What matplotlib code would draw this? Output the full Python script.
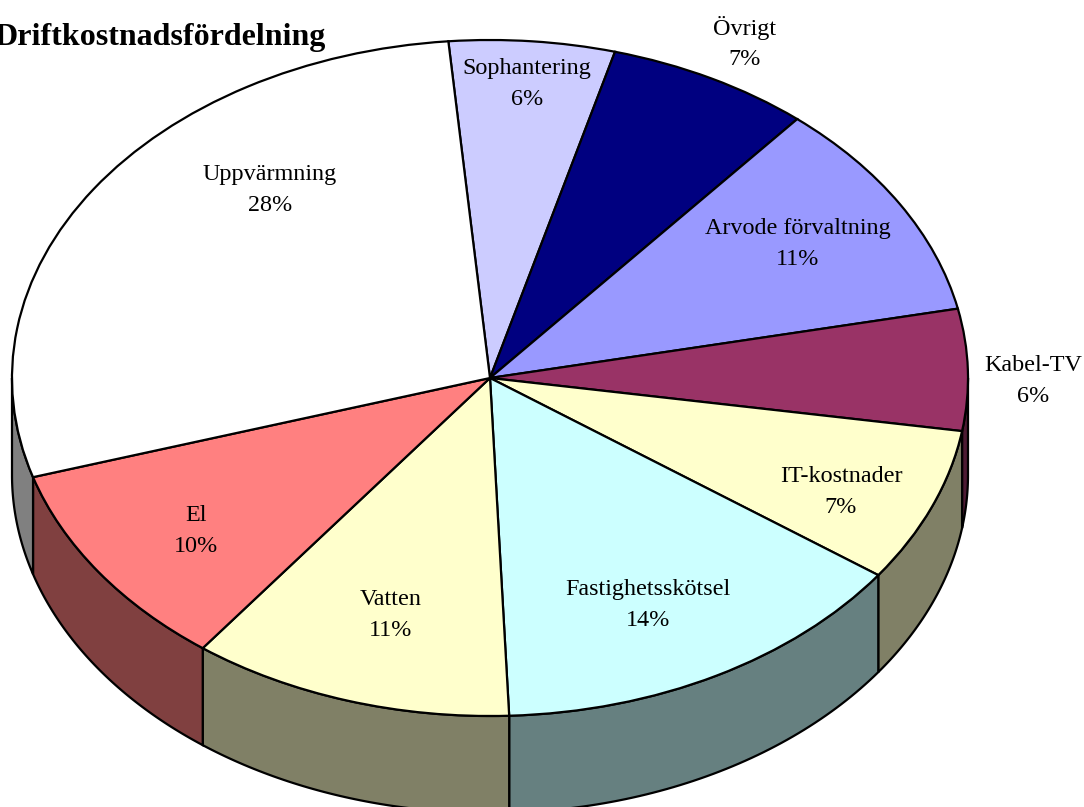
import numpy as np
import matplotlib
matplotlib.use('Agg')
import matplotlib.pyplot as plt

# Andelar lästa från bilden, medurs från Sophantering
kategorier = ['Sophantering', 'Övrigt', 'Arvode förvaltning', 'Kabel-TV', 'IT-kostnader',
              'Fastighetsskötsel', 'Vatten', 'El', 'Uppvärmning']
andelar = [5.6, 6.9, 10.6, 5.8, 7.4, 14.45, 10.9, 10.0, 28.35]
farger = ['#CCCCFF', '#000080', '#9999FF', '#993366', '#FFFFCC',
          '#CCFFFF', '#FFFFCC', '#FF8080', '#FFFFFF']
titel = 'Driftkostnadsfördelning'

W, H = 1084, 807
CX, CY = 490, 378
RX, RY = 478, 338
DJUP = 97 / RY
START = 95

plt.rcParams['font.family'] = ['Liberation Serif', 'DejaVu Serif']


def px(x, y):
    # pixel i bilden -> enhetscirkelns koordinater
    return (x - CX) / RX, (CY - y) / RY


fig = plt.figure(figsize=(W / 100, H / 100), dpi=100)
ax = fig.add_axes([0, 0, 1, 1])

wedges, _ = ax.pie(andelar, colors=farger, startangle=START, counterclock=False, radius=1,
                   wedgeprops={'edgecolor': 'black', 'linewidth': 1.6, 'zorder': 3})
ax.set_aspect('auto')
ax.set_xlim(px(0, 0)[0], px(W, 0)[0])
ax.set_ylim(px(0, H)[1], px(0, 0)[1])

# sidoväggar: samma färg i halv ljusstyrka, bara undre halvan syns
grans = START - np.cumsum([0] + andelar) * 360 / sum(andelar)
for i, farg in enumerate(farger):
    a1, a2 = grans[i], grans[i + 1]
    # undre halvan motsvarar vinklar mellan -180 och 0
    lo, hi = max(a2, -180), min(a1, 0)
    if lo >= hi:
        continue
    t = np.radians(np.linspace(hi, lo, 60))
    xs = np.cos(t)
    ys = np.sin(t)
    rgb = np.array(matplotlib.colors.to_rgb(farg)) * 0.5
    ax.fill(np.r_[xs, xs[::-1]], np.r_[ys, ys[::-1] - DJUP],
            facecolor=rgb, edgecolor='black', linewidth=1.6, zorder=1, clip_on=True)

# etiketternas plats i bilden
lagen = {'Sophantering': (527, 84), 'Övrigt': (745, 43), 'Arvode förvaltning': (798, 244),
         'Kabel-TV': (1033, 381), 'IT-kostnader': (841, 492), 'Fastighetsskötsel': (648, 605),
         'Vatten': (391, 615), 'El': (196, 531), 'Uppvärmning': (270, 190)}
for namn, v in zip(kategorier, andelar):
    x, y = px(*lagen[namn])
    ax.text(x, y, f'{namn}\n{round(v)}%', ha='center', va='center', fontsize=17.4,
            linespacing=1.58, color='black', zorder=5)

# titeln är avskuren i vänsterkanten även i originalet
x, y = px(160, 37)
ax.text(x, y, titel, ha='center', va='center', fontsize=23, fontweight='bold', color='black', zorder=5)

fig.savefig('out.png', dpi=100)
